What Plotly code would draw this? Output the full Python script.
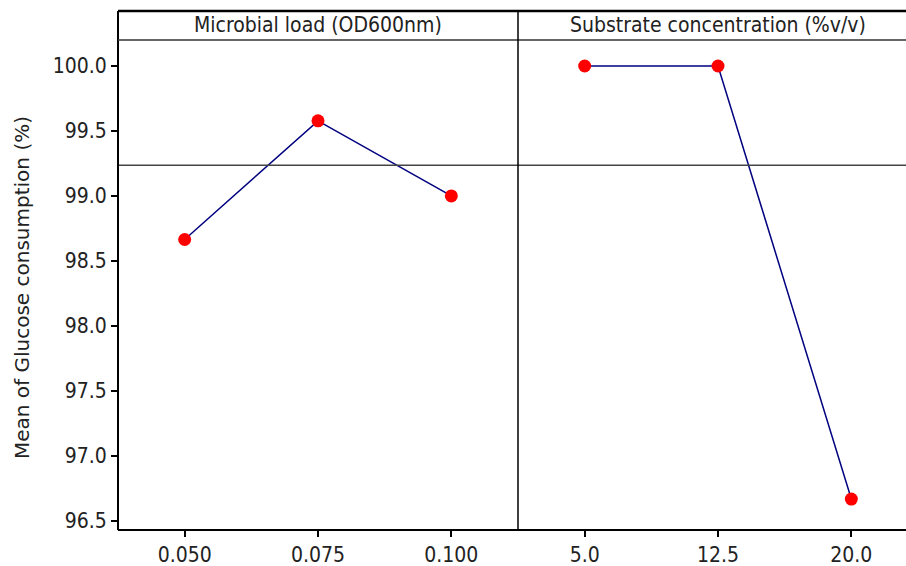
import plotly.graph_objects as go

factor_names = ["Microbial load (OD600nm)", "Substrate concentration (%v/v)"]
levels_1 = ["0.050", "0.075", "0.100"]
means_1 = [98.665, 99.578, 99.0]
levels_2 = ["5.0", "12.5", "20.0"]
means_2 = [100.0, 100.0, 96.668]
grand_mean = 99.236
y_title = "Mean of Glucose consumption (%)"

W, H = 906, 566
ml, mr, mt, mb = 118, 0, 40, 36
pw = W - ml - mr
ph = H - mt - mb
split = (518 - ml) / pw
strip_top = 1 + (40 - 11) / ph

font_fam = "DejaVu Sans Condensed, DejaVu Sans, sans-serif"

fig = go.Figure()
fig.add_trace(go.Scatter(x=[0, 1, 2], y=means_1, mode="lines+markers",
                         line=dict(color="#000080", width=1.5),
                         marker=dict(color="#ff0000", size=13),
                         xaxis="x", yaxis="y", showlegend=False))
fig.add_trace(go.Scatter(x=[0, 1, 2], y=means_2, mode="lines+markers",
                         line=dict(color="#000080", width=1.5),
                         marker=dict(color="#ff0000", size=13),
                         xaxis="x2", yaxis="y", showlegend=False))

axis_common = dict(showgrid=False, zeroline=False, ticks="outside", ticklen=6,
                   tickwidth=1.5, tickcolor="black",
                   tickfont=dict(family=font_fam, size=21, color="#222"))

fig.update_layout(
    width=W, height=H,
    margin=dict(l=ml, r=mr, t=mt, b=mb),
    paper_bgcolor="white", plot_bgcolor="white",
    xaxis=dict(domain=[0, split], range=[-0.5, 2.5], tickmode="array",
               tickvals=[0, 1, 2], ticktext=levels_1, **axis_common),
    xaxis2=dict(domain=[split, 1], range=[-0.5, 2.5 - 12 / 133.3], tickmode="array",
                tickvals=[0, 1, 2], ticktext=levels_2, anchor="y", **axis_common),
    yaxis=dict(range=[96.43, 100.2], tickmode="array",
               tickvals=[96.5, 97.0, 97.5, 98.0, 98.5, 99.0, 99.5, 100.0],
               ticktext=["96.5", "97.0", "97.5", "98.0", "98.5", "99.0", "99.5", "100.0"],
               **axis_common),
)

shapes = []
shapes.append(dict(type="line", xref="paper", yref="y", x0=0, x1=1,
                   y0=grand_mean, y1=grand_mean, line=dict(color="#444", width=1.5)))
shapes.append(dict(type="line", xref="paper", yref="paper", x0=0, x1=0,
                   y0=0, y1=strip_top, line=dict(color="black", width=2)))
shapes.append(dict(type="line", xref="paper", yref="paper", x0=0, x1=1,
                   y0=0, y1=0, line=dict(color="black", width=2)))
shapes.append(dict(type="line", xref="paper", yref="paper", x0=0, x1=1,
                   y0=strip_top, y1=strip_top, line=dict(color="black", width=2.5)))
shapes.append(dict(type="line", xref="paper", yref="paper", x0=0, x1=1,
                   y0=1, y1=1, line=dict(color="#333", width=1.5)))
shapes.append(dict(type="line", xref="paper", yref="paper", x0=split, x1=split,
                   y0=0, y1=strip_top, line=dict(color="black", width=1.5)))
fig.update_layout(shapes=shapes)

annotations = [
    dict(text=factor_names[0], xref="paper", yref="paper", x=split / 2,
         y=(1 + strip_top) / 2, showarrow=False, xanchor="center", yanchor="middle",
         font=dict(family=font_fam, size=21, color="#222")),
    dict(text=factor_names[1], xref="paper", yref="paper", x=(718 - ml) / pw,
         y=(1 + strip_top) / 2, showarrow=False, xanchor="center", yanchor="middle",
         font=dict(family=font_fam, size=21, color="#222")),
    dict(text=y_title, xref="paper", yref="paper", x=(22 - ml) / pw,
         y=(H - mb - 288) / ph, textangle=-90, showarrow=False,
         xanchor="center", yanchor="middle",
         font=dict(family="DejaVu Sans, sans-serif", size=20, color="#222")),
]
fig.update_layout(annotations=annotations)

fig.write_html("out.html")
